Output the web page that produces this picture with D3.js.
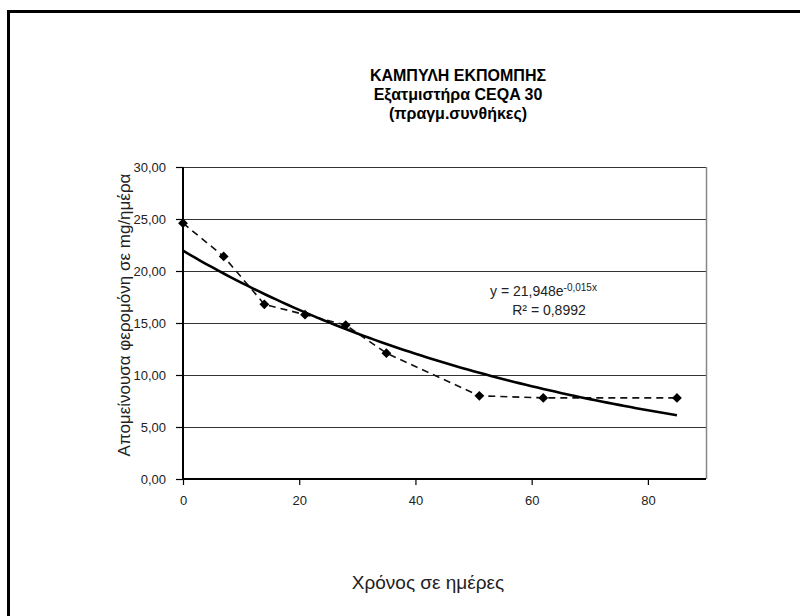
<!DOCTYPE html>
<html>
<head>
<meta charset="utf-8">
<script src="https://cdn.jsdelivr.net/npm/d3@7"></script>
<style>
  body { margin: 0; background: #fff; }
  svg text { font-family: Arial, "Liberation Sans", sans-serif; fill: #222; }
</style>
</head>
<body>
<div id="chart"></div>
<script>
// values
const days = [0, 7, 14, 21, 28, 35, 51, 62, 85];
const pheromone = [24.6, 21.4, 16.8, 15.8, 14.8, 12.1, 8.0, 7.8, 7.8];
const xTicks = [0, 20, 40, 60, 80];
const yTicks = [0, 5, 10, 15, 20, 25, 30];
const titleLines = ["ΚΑΜΠΥΛΗ ΕΚΠΟΜΠΗΣ", "Εξατμιστήρα CEQA 30", "(πραγμ.συνθήκες)"];
// exponential trend line as printed on the chart: y = a * e^(b x)
const trendA = 21.948;
const trendB = -0.015;

const width = 800, height = 616;
const plot = { left: 183, right: 706, top: 167, bottom: 479 };

const svg = d3.select("#chart").append("svg")
  .attr("width", width)
  .attr("height", height);

// outer frame (runs off the right and bottom edges)
svg.append("rect")
  .attr("x", 8.5).attr("y", 11.5)
  .attr("width", 820).attr("height", 700)
  .attr("fill", "none")
  .attr("stroke", "#000")
  .attr("stroke-width", 3);

const x = d3.scaleLinear().domain([0, 90]).range([plot.left, plot.right]);
const y = d3.scaleLinear().domain([0, 30]).range([plot.bottom, plot.top]);
const fmt = v => d3.format(".2f")(v).replace(".", ",");

// gridlines
svg.append("g")
  .selectAll("line")
  .data(yTicks.filter(d => d > 0))
  .enter().append("line")
  .attr("x1", plot.left).attr("x2", plot.right)
  .attr("y1", d => y(d) + 0.5).attr("y2", d => y(d) + 0.5)
  .attr("stroke", "#333")
  .attr("stroke-width", 1);

// plot area right border
svg.append("line")
  .attr("x1", plot.right + 0.5).attr("x2", plot.right + 0.5)
  .attr("y1", plot.top).attr("y2", plot.bottom)
  .attr("stroke", "#888")
  .attr("stroke-width", 1.5);

// axes
const yAxis = svg.append("g")
  .attr("transform", `translate(${plot.left},0)`)
  .call(d3.axisLeft(y).tickValues(yTicks).tickFormat(fmt).tickSize(7).tickPadding(10));

const xAxis = svg.append("g")
  .attr("transform", `translate(0,${plot.bottom})`)
  .call(d3.axisBottom(x).tickValues(xTicks).tickFormat(d3.format("d")).tickSize(6).tickPadding(11));

[yAxis, xAxis].forEach(g => {
  g.select(".domain").attr("stroke", "#000").attr("stroke-width", 2);
  g.selectAll(".tick line").attr("stroke", "#000").attr("stroke-width", 1.2);
  g.selectAll("text")
    .style("font-family", "Arial, 'Liberation Sans', sans-serif")
    .style("font-size", "13px")
    .attr("fill", "#333");
});
xAxis.select(".domain").attr("d", `M${plot.left},0H${plot.right}`);
yAxis.select(".domain").attr("d", `M0,${plot.bottom}V${plot.top}`);

// measured series, dashed
const points = days.map((d, i) => [d, pheromone[i]]);
svg.append("path")
  .datum(points)
  .attr("fill", "none")
  .attr("stroke", "#111")
  .attr("stroke-width", 1.6)
  .attr("stroke-dasharray", "7,5")
  .attr("d", d3.line().x(d => x(d[0])).y(d => y(d[1])));

// trend line from the printed equation, over the span of the data
const trendX = d3.range(d3.min(days), d3.max(days) + 0.5, 1);
svg.append("path")
  .datum(trendX)
  .attr("fill", "none")
  .attr("stroke", "#000")
  .attr("stroke-width", 2.6)
  .attr("d", d3.line().x(d => x(d)).y(d => y(trendA * Math.exp(trendB * d))).curve(d3.curveMonotoneX));

// markers (diamonds)
svg.append("g")
  .selectAll("path")
  .data(points)
  .enter().append("path")
  .attr("d", d3.symbol().type(d3.symbolSquare).size(48))
  .attr("transform", d => `translate(${x(d[0])},${y(d[1])}) rotate(45)`)
  .attr("fill", "#000");

// title
svg.append("text")
  .attr("text-anchor", "middle")
  .style("font-size", "16px")
  .style("font-weight", "bold")
  .selectAll("tspan")
  .data(titleLines)
  .enter().append("tspan")
  .attr("x", 458)
  .attr("y", (d, i) => 81 + i * 19)
  .attr("fill", "#000")
  .text(d => d);

// equation label
const eq = svg.append("text")
  .attr("x", 490).attr("y", 296)
  .style("font-size", "14px")
  .attr("fill", "#222");
eq.append("tspan").text("y = 21,948e");
eq.append("tspan").attr("dy", -5).style("font-size", "10px").text("-0,015x");
svg.append("text")
  .attr("x", 549).attr("y", 315)
  .attr("text-anchor", "middle")
  .style("font-size", "14px")
  .attr("fill", "#222")
  .text("R² = 0,8992");

// axis titles
svg.append("text")
  .attr("transform", `translate(130,${(plot.top + plot.bottom) / 2 - 8}) rotate(-90)`)
  .attr("text-anchor", "middle")
  .style("font-size", "17px")
  .attr("fill", "#111")
  .text("Απομείνουσα φερομόνη σε mg/ημέρα");

svg.append("text")
  .attr("x", 428).attr("y", 589)
  .attr("text-anchor", "middle")
  .style("font-size", "19px")
  .attr("fill", "#111")
  .text("Χρόνος σε ημέρες");
</script>
</body>
</html>
